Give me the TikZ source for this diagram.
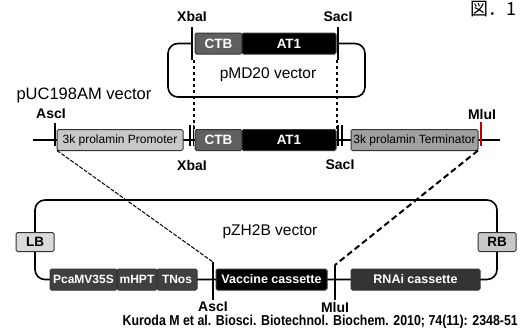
\documentclass[tikz,border=0pt]{standalone}
\usepackage{fontspec}
\setmainfont{Liberation Sans}
\newfontfamily\cjk{Noto Sans CJK JP}
\usetikzlibrary{positioning}
\definecolor{ctbgray}{HTML}{606060}
\definecolor{promgray}{HTML}{C8C8C8}
\definecolor{termgray}{HTML}{A0A0A0}
\definecolor{cassgray}{HTML}{404040}
\definecolor{rnaigray}{HTML}{333333}
\newcommand{\fsz}[1]{\fontsize{#1}{#1}\selectfont}
\tikzset{
  part/.style={draw=black!80, line width=1pt, rounded corners=1.5pt, minimum height=21pt,
    inner sep=0pt, outer sep=0pt, text=white, font=\bfseries\fsz{13.5}},
  small/.style={part, fill=cassgray, font=\bfseries\fsz{12}},
  light/.style={part, text=black, font=\fsz{12}},
  sitelbl/.style={font=\bfseries\fsz{14}},
  veclbl/.style={font=\fsz{15.5}},
  wire/.style={line width=1.6pt, rounded corners=10pt},
  cut/.style={line width=1.3pt},
}

\begin{document}
\begin{tikzpicture}[x=1pt,y=-1pt,node distance=0pt]
  \useasboundingbox (0,0) rectangle (523,333);

  % pMD20 vector
  \draw[wire] (192,43.5) -- (168,43.5) -- (168,97) -- (365,97) -- (365,43.5) -- (338,43.5);
  \node[part, fill=ctbgray, minimum width=47pt, anchor=west] (ctbA) at (195,43.5) {CTB};
  \node[part, fill=black, minimum width=94pt, right=of ctbA] (atA) {AT1};
  \draw[cut] (192,27) coordinate (xbaA) -- (192,60);
  \draw[cut] (338,27) coordinate (sacA) -- (338,60);
  \node[sitelbl, above=2pt of xbaA] (xbaAl) {XbaI};
  \node[sitelbl, above=2pt of sacA] (sacAl) {SacI};
  \node[veclbl] (pmd) at (268,75) {pMD20 vector};

  % pUC198AM vector
  \node[veclbl, font=\fsz{16.5}, anchor=west] (puc) at (13,95) {pUC198AM vector};
  \draw[line width=1.6pt] (33,140) -- (500,140);
  \node[light, fill=promgray, minimum width=126pt, anchor=west] (prom) at (57,140) {3k prolamin Promoter};
  \node[part, fill=ctbgray, minimum width=47pt, anchor=west] (ctbB) at (195,140) {CTB};
  \node[part, fill=black, minimum width=94pt, right=of ctbB] (atB) {AT1};
  \node[light, fill=termgray, minimum width=127pt, anchor=west] (term) at (351,140) {3k prolamin Terminator};
  \draw[cut] (55,123) coordinate (ascA) -- (55,146);
  \draw[cut] (190,125) -- (190,146) (193.5,125) -- (193.5,146);
  \draw[cut] (338,125) -- (338,146) (342,125) -- (342,146);
  \draw[cut, red!75!black] (481,122) coordinate (mluA) -- (481,146);
  \node[sitelbl] (ascAl) at (51,114) {AscI};
  \node[sitelbl] (mluAl) at (482,114) {MluI};
  \node[sitelbl] (xbaBl) at (192,165) {XbaI};
  \node[sitelbl] (sacBl) at (340,165) {SacI};

  % top insert into middle
  \draw[dashed, line width=1.2pt] (194,60) -- (194,129);
  \draw[dashed, line width=1.2pt] (337,60) -- (337,129);

  % pZH2B vector
  \draw[wire] (35,242) -- (35,200) -- (497,200) -- (497,242);
  \draw[wire] (35,242) -- (35,279.5) -- (497,279.5) -- (497,242);
  \node[part, fill=promgray!70!white, text=black, minimum width=38pt, minimum height=19pt] (lb) at (35,242) {LB};
  \node[part, fill=promgray, text=black, minimum width=38pt, minimum height=19pt] (rb) at (497,242) {RB};
  \node[small, minimum width=67pt, anchor=west] (pca) at (50,279.5) {PcaMV35S};
  \node[small, minimum width=40pt, right=of pca] (mhpt) {mHPT};
  \node[small, minimum width=40pt, right=of mhpt] (tnos) {TNos};
  \node[part, fill=black, font=\bfseries\fsz{12.5}, minimum width=111pt, anchor=west] (vacc) at (216,279.5) {Vaccine cassette};
  \node[part, fill=rnaigray, font=\bfseries\fsz{12.5}, minimum width=129pt, anchor=west] (rnai) at (351,279.5) {RNAi cassette};
  \draw[cut] (213,262) coordinate (ascB) -- (213,300);
  \draw[cut] (335,265) coordinate (mluB) -- (335,300);
  \node[sitelbl] (ascBl) at (213,307) {AscI};
  \node[sitelbl] (mluBl) at (335,307) {MluI};
  \node[veclbl] (pzh) at (270,232) {pZH2B vector};

  % middle cassette into pZH2B
  \draw[dash pattern=on 4pt off 1.5pt, line width=1pt] (prom.south west) -- (ascB);
  \draw[dash pattern=on 6pt off 3.5pt, line width=2pt] (term.south east) -- (mluB);

  \node[font=\bfseries\fsz{14.4}, xscale=0.86, transform shape, anchor=east, inner sep=0pt] (cite) at (518,322)
    {Kuroda M et al. Biosci. Biotechnol. Biochem. 2010; 74(11): 2348-51};
  \node[font=\cjk\fsz{18}, anchor=base west, inner sep=0pt] (fig) at (470,15) {図．1};
\end{tikzpicture}
\end{document}
